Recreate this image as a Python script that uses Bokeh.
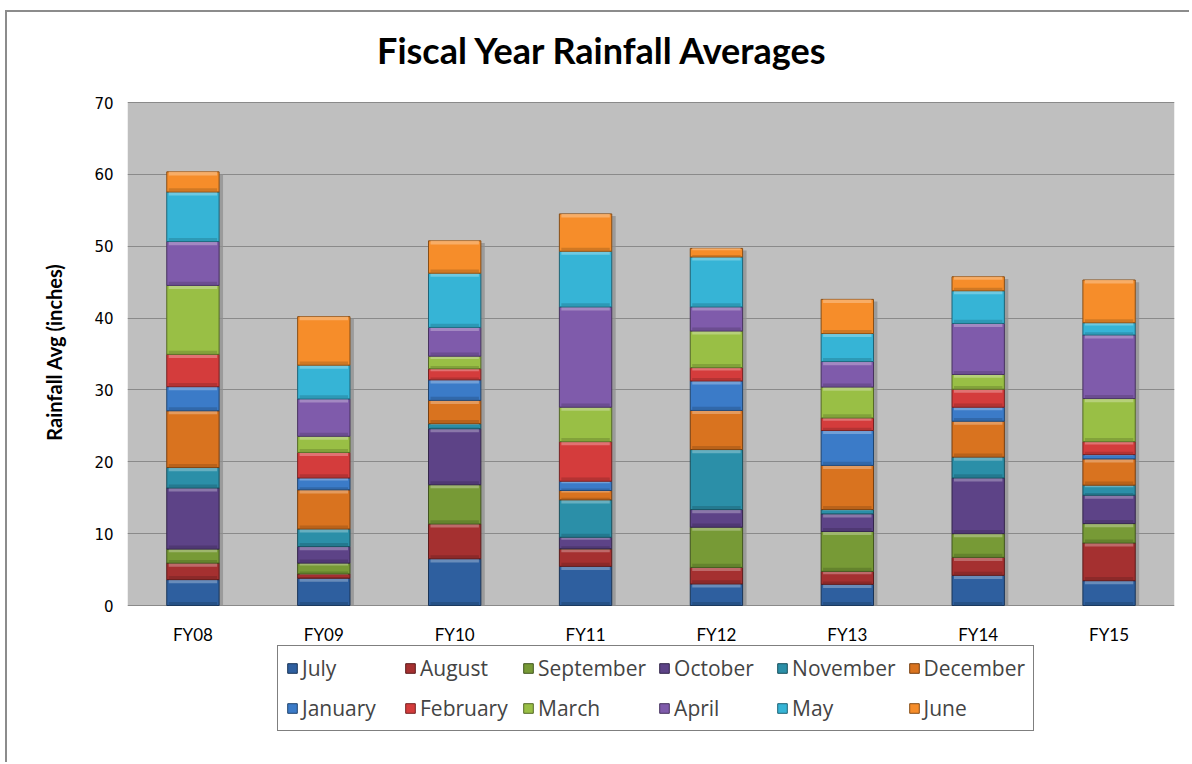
from bokeh.plotting import figure
from bokeh.models import (Legend, LegendItem, FactorRange, Range1d, ColumnDataSource,
                          FixedTicker, BoxAnnotation, Label, Title)
from bokeh.transform import dodge
from bokeh.embed import file_html
from bokeh.resources import INLINE
import numpy as np

# ---------------- data ----------------
fiscal_years = ["FY08", "FY09", "FY10", "FY11", "FY12", "FY13", "FY14", "FY15"]
months = ["July", "August", "September", "October", "November", "December",
          "January", "February", "March", "April", "May", "June"]

july      = [3.6, 3.8, 6.5, 5.45, 3.0, 2.95, 4.2, 3.45]
august    = [2.3, 0.6, 4.85, 2.45, 2.3, 1.8, 2.5, 5.25]
september = [1.95, 1.5, 5.45, 0.0, 5.6, 5.55, 3.3, 2.7]
october   = [8.5, 2.3, 7.8, 1.6, 2.45, 2.45, 7.75, 3.95]
november  = [2.85, 2.45, 0.7, 5.2, 8.35, 0.6, 2.9, 1.4]
december  = [7.9, 5.45, 3.25, 1.3, 5.45, 6.15, 5.0, 3.65]
january   = [3.35, 1.65, 2.85, 1.3, 4.1, 4.85, 1.95, 0.6]
february  = [4.5, 3.55, 1.55, 5.5, 1.85, 1.75, 2.5, 1.8]
march     = [9.6, 2.25, 1.75, 4.8, 5.1, 4.3, 2.05, 6.0]
april     = [6.1, 5.2, 4.0, 13.95, 3.35, 3.55, 7.1, 8.85]
may       = [6.9, 4.7, 7.55, 7.75, 6.95, 3.9, 4.55, 1.7]
june      = [2.8, 6.75, 4.5, 5.2, 1.2, 4.75, 1.95, 5.95]

series = [july, august, september, october, november, december,
          january, february, march, april, may, june]

colors = ["#2E5F9F", "#A53030", "#779A36", "#5D4387", "#2B8FA8", "#D9731F",
          "#3B7BC8", "#D43C3C", "#99BF45", "#7F5BAB", "#36B4D6", "#F68D2A"]

y_ticks = [0, 10, 20, 30, 40, 50, 60, 70]
y_min, y_max = 0, 70

chart_title = "Fiscal Year Rainfall Averages"
y_title = "Rainfall Avg (inches)"


def mix(hex_color, other, t):
    h = hex_color.lstrip("#")
    o = other.lstrip("#")
    c = [int(h[i:i + 2], 16) for i in (0, 2, 4)]
    d = [int(o[i:i + 2], 16) for i in (0, 2, 4)]
    r = [round(a + (b - a) * t) for a, b in zip(c, d)]
    return "#%02x%02x%02x" % tuple(r)


FONT = "Lato"

# The frame covers the title and legend area too; the value area is 503 px tall.
px_per_unit = 503 / (y_max - y_min)
extra_above = 82 / px_per_unit
extra_below = 135 / px_per_unit

p = figure(width=1184, height=752,
           x_range=FactorRange(*fiscal_years, range_padding=0),
           y_range=Range1d(y_min - extra_below, y_max + extra_above),
           output_backend="svg", toolbar_location=None,
           min_border_left=120, min_border_right=17,
           min_border_top=8, min_border_bottom=24,
           background_fill_color="white", border_fill_color="white")
p.styles = {"margin-left": "5px", "margin-top": "10px",
            "border-left": "2px solid #8c8c8c", "border-top": "2px solid #8c8c8c"}
p.outline_line_color = None

# grey plot area (value region only)
p.add_layout(BoxAnnotation(bottom=y_min, top=y_max, fill_color="#BFBFBF",
                           fill_alpha=1, line_color=None, level="image"))

# chart title
p.add_layout(Label(x=len(fiscal_years) / 2, y=y_max + 53 / px_per_unit,
                   x_offset=-48, text=chart_title, text_align="center",
                   text_baseline="middle", text_font=FONT, text_font_style="bold",
                   text_font_size="36px", text_color="black"))

p.xgrid.grid_line_color = None
p.ygrid.grid_line_color = "#8A8A8A"
p.ygrid.grid_line_width = 1
p.ygrid.ticker = FixedTicker(ticks=y_ticks)

p.yaxis.ticker = FixedTicker(ticks=y_ticks)
p.yaxis.major_label_text_font = "DejaVu Sans"
p.yaxis.major_label_text_font_size = "15px"
p.yaxis.major_label_standoff = 14

# vertical axis title, placed against the value area
p.add_layout(Title(text=y_title, align="right", offset=243, standoff=52,
                   text_font=FONT, text_font_style="bold", text_font_size="20px",
                   text_color="black"), "left")

p.xaxis.fixed_location = 0
p.xaxis.major_label_text_font = FONT
p.xaxis.major_label_text_font_size = "17px"
p.xaxis.major_label_standoff = 18

for ax in (p.xaxis, p.yaxis):
    ax.axis_line_color = None
    ax.major_tick_line_color = None
    ax.minor_tick_line_color = None
    ax.major_tick_out = 0
    ax.major_tick_in = 0
    ax.major_label_text_color = "black"

# shadows
totals = np.sum(np.array(series), axis=0)
shadow = ColumnDataSource(dict(fy=fiscal_years, top=totals - 0.3))
p.vbar(x=dodge("fy", 0.03, range=p.x_range), top="top", bottom=0, width=0.4,
       source=shadow, fill_color="#8F8F8F", fill_alpha=0.75, line_color=None)

bottom = np.zeros(len(fiscal_years))
items = []
for name, vals, col in zip(months, series, colors):
    v = np.array(vals, dtype=float)
    top = bottom + v
    band = np.minimum(v * 0.22, 0.5)
    src = ColumnDataSource(dict(fy=fiscal_years, bottom=bottom.copy(), top=top,
                                hl_bottom=top - band, dk_top=bottom + band))
    r = p.vbar(x="fy", top="top", bottom="bottom", width=0.4, source=src,
               fill_color=col, line_color=mix(col, "#000000", 0.45), line_width=1)
    p.vbar(x="fy", top="top", bottom="hl_bottom", width=0.37, source=src,
           fill_color=mix(col, "#ffffff", 0.35), fill_alpha=0.8, line_color=None)
    p.vbar(x="fy", top="dk_top", bottom="bottom", width=0.37, source=src,
           fill_color=mix(col, "#000000", 0.25), fill_alpha=0.6, line_color=None)
    items.append(LegendItem(label=name, renderers=[r]))
    bottom = top

legend = Legend(items=items, ncols=6, orientation="horizontal",
                location=(150, 9),
                label_text_font="Open Sans", label_text_font_size="21px",
                glyph_width=12, glyph_height=12, label_standoff=4,
                label_width=90, spacing=12, padding=8, margin=0,
                border_line_color="black", border_line_width=1,
                background_fill_color="white", background_fill_alpha=1)
p.add_layout(legend, "center")

open("out.html", "w").write(file_html(p, INLINE))
